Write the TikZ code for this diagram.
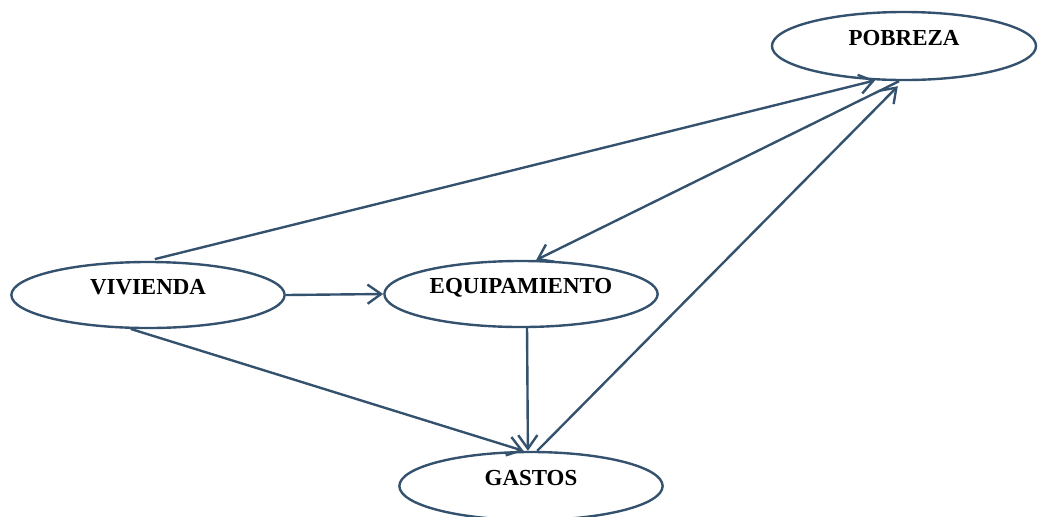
\documentclass[tikz,border=0pt]{standalone}
\usepackage{fontspec}
\setmainfont{Liberation Serif}
\usetikzlibrary{arrows.meta,positioning,shapes.geometric}
\definecolor{lnblue}{HTML}{34526E}
\tikzset{
  varell/.style  = {ellipse, draw=lnblue, line width=1.7pt, fill=white, inner sep=0pt,
                     text height=0.38cm, text depth=0.40cm,
                     font=\fontsize{16.3}{19}\selectfont\bfseries},
  relarrow/.style = {-{Straight Barb[length=3.4mm,width=4.8mm]}, line width=1.7pt, lnblue},
}
\begin{document}
\begin{tikzpicture}[x=0.025cm,y=-0.025cm]
\useasboundingbox (0,0) rectangle (1039,516);
% variables
\node[varell, minimum width=6.6cm,  minimum height=1.7cm]  (pob)   at (904,46)  {POBREZA};
\node[varell, minimum width=6.83cm, minimum height=1.65cm] (viv)   at (148,295) {VIVIENDA};
\node[varell, minimum width=6.83cm, minimum height=1.65cm] (equip) at (521,294) {EQUIPAMIENTO};
\node[varell, minimum width=6.58cm, minimum height=1.7cm]  (gas)   at (531,486) {GASTOS};
% relations
\draw[relarrow, shorten <=5pt] (viv.north) -- (pob.230);
\draw[relarrow] (pob.262) -- (equip.66);
\draw[relarrow, shorten >=5pt] (gas.80) -- (pob.268);
\draw[relarrow] (viv.east) -- (equip.west);
\draw[relarrow] (viv.243) -- (gas.102);
\draw[relarrow] (equip.280) -- (gas.95);
\end{tikzpicture}
\end{document}
